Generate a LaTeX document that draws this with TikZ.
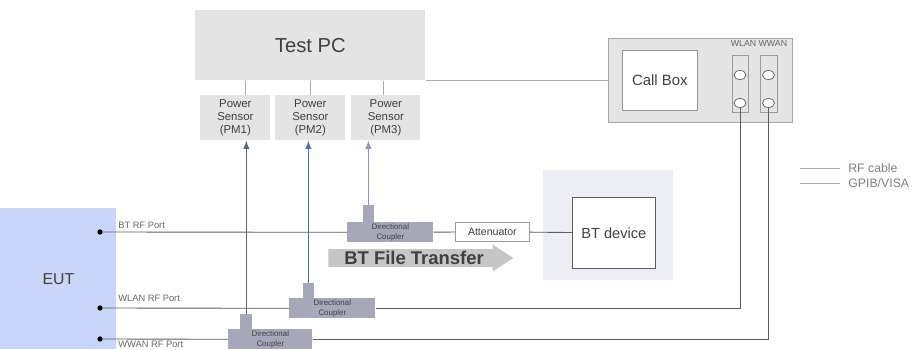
\documentclass[tikz,border=0pt]{standalone}
\usepackage{fontspec}
\setmainfont{Liberation Sans}
\usetikzlibrary{positioning,shapes.geometric,shapes.arrows}
\definecolor{pcgray}{HTML}{E4E4E4}
\definecolor{cplgray}{HTML}{A6A8BA}
\definecolor{eutblue}{HTML}{C9D5F9}
\definecolor{btback}{HTML}{EDEDF4}
\definecolor{cable}{HTML}{5E5E5E}
\definecolor{ctrl}{HTML}{A8A8A8}
\definecolor{txt}{HTML}{404040}
\definecolor{sensA}{HTML}{5A6488}
\definecolor{sensB}{HTML}{4A70C0}
\definecolor{sensC}{HTML}{9090CC}
\tikzset{
  sz/.style 2 args={minimum width=#1*0.02cm,minimum height=#2*0.02cm},
  box/.style={rectangle,inner sep=0pt,anchor=north west,align=center,text=txt},
  graybox/.style={box,fill=pcgray},
  sensor/.style={graybox,font=\fontsize{6.5}{7.5}\selectfont},
  coupler/.style={box,fill=cplgray,font=\fontsize{4.5}{5.5}\selectfont},
  tab/.style={box,fill=cplgray},
  port/.style={circle,fill=black,inner sep=0pt,minimum size=3pt},
  portlbl/.style={inner sep=0pt,anchor=west,text=txt!80,font=\fontsize{5.3}{6}\selectfont},
  jack/.style={ellipse,draw=cable,fill=white,inner sep=0pt,minimum width=12*0.02cm,minimum height=9*0.02cm},
  rf/.style={draw=cable,line width=0.5pt},
  gpib/.style={draw=ctrl,line width=0.5pt},
  sense/.style={-latex,line width=0.6pt},
  lgd/.style={anchor=west,inner xsep=8*0.02cm,inner ysep=0pt,text=gray,font=\fontsize{7}{8}\selectfont}
}

\begin{document}
\begin{tikzpicture}[x=0.02cm,y=-0.02cm]
\useasboundingbox (0,0) rectangle (921,349);

% test PC and power sensors
\node[graybox,sz={230}{70},font=\fontsize{11.5}{13}\selectfont] (pc) at (195,10) {Test PC};
\node[sensor,sz={70}{45}] (pm1) at (200,95) {Power\\Sensor\\(PM1)};
\node[sensor,sz={70}{45}] (pm2) at (275,95) {Power\\Sensor\\(PM2)};
\node[sensor,sz={69}{45}] (pm3) at (351,95) {Power\\Sensor\\(PM3)};
\coordinate (g1) at (245,0);
\coordinate (g2) at (310,0);
\coordinate (g3) at (383,0);
\draw[gpib] (pc.south -| g1) -- (pm1.north -| g1);
\draw[gpib] (pc.south -| g2) -- (pm2.north -| g2);
\draw[gpib] (pc.south -| g3) -- (pm3.north -| g3);

% call box
\node[graybox,draw=gray!70,sz={184}{84}] (cell) at (608,38) {};
\node[box,fill=white,draw=gray!80,sz={75}{60},font=\fontsize{8.5}{10}\selectfont] (call) at (622,50) {Call Box};
\node[inner sep=0pt,text=txt!80,font=\fontsize{5}{6}\selectfont] (wlbl) at (759,43) {WLAN WWAN};
\node[graybox,draw=gray!80,sz={16}{57}] (wlancol) at (732,55) {};
\node[graybox,draw=gray!80,sz={17}{57}] (wwancol) at (760,55) {};
\node[jack] (wlan1) at (740,75) {};
\node[jack] (wlan2) at (740,103) {};
\node[jack] (wwan1) at (768.5,75) {};
\node[jack] (wwan2) at (768.5,103) {};
\draw[gpib] (cell.west) -- (cell.west -| pc.east);

% BT device
\node[box,fill=btback,sz={130}{110}] (btbg) at (543,170) {};
\node[box,fill=white,draw=cable,sz={83}{71},font=\fontsize{8.3}{10}\selectfont] (btdev) at (572,197) {BT device};

% EUT
\node[box,fill=eutblue,sz={116}{141},font=\fontsize{9}{10}\selectfont] (eut) at (0,208) {EUT};
\node[port] (btport) at (100,232) {};
\node[port] (wlanport) at (100,308) {};
\node[port] (wwanport) at (100,339) {};
\node[portlbl] (btlbl) at (118,225) {BT RF Port};
\node[portlbl] (wlanlbl) at (118,298) {WLAN RF Port};
\node[portlbl] (wwanlbl) at (118,344.5) {WWAN RF Port};

% couplers and attenuator
\node[tab,sz={11}{17}] (tab1) at (362.5,205) {};
\node[coupler,sz={86}{20}] (cpl1) at (347,222) {Directional\\Coupler};
\node[tab,sz={11}{15}] (tab2) at (302.5,283) {};
\node[coupler,sz={86}{20}] (cpl2) at (289,298) {Directional\\Coupler};
\node[tab,sz={12}{15}] (tab3) at (240,314) {};
\node[coupler,sz={84}{20}] (cpl3) at (228,329) {Directional\\Coupler};
\node[box,fill=white,draw=gray!80,sz={74}{19},font=\fontsize{6}{7}\selectfont] (att) at (455,222) {Attenuator};

\node[single arrow,fill=gray!45,text=txt,font=\bfseries\fontsize{10.5}{12}\selectfont,
      inner ysep=1pt,minimum height=185*0.02cm,single arrow head extend=4.5*0.02cm,
      single arrow tip angle=66,anchor=west] (xfer) at (328,258) {BT File Transfer};

% RF cables
\path[rf] (btport) edge (cpl1)
          (cpl1) edge (att)
          (att) edge (btdev)
          (wlanport) edge (cpl2)
          (wwanport) edge (cpl3);
\draw[rf] (cpl2.east) -| (wlan2.south);
\draw[rf] (cpl3.east) -| (wwan2.south);

% coupled ports to sensors
\draw[sense,draw=sensA] (tab3.north) -- (tab3.north |- pm1.south);
\draw[sense,draw=sensB] (tab2.north) -- (tab2.north |- pm2.south);
\draw[sense,draw=sensC] (tab1.north) -- (tab1.north |- pm3.south);

% legend
\node[lgd] (rftxt) at (840,168) {RF cable};
\node[lgd] (gptxt) at (840,183) {GPIB/VISA};
\coordinate (rfa) at (800,168);
\coordinate (gpa) at (800,183);
\draw[gpib] (rfa) -- (rftxt.west);
\draw[gpib] (gpa) -- (gptxt.west);
\end{tikzpicture}
\end{document}
